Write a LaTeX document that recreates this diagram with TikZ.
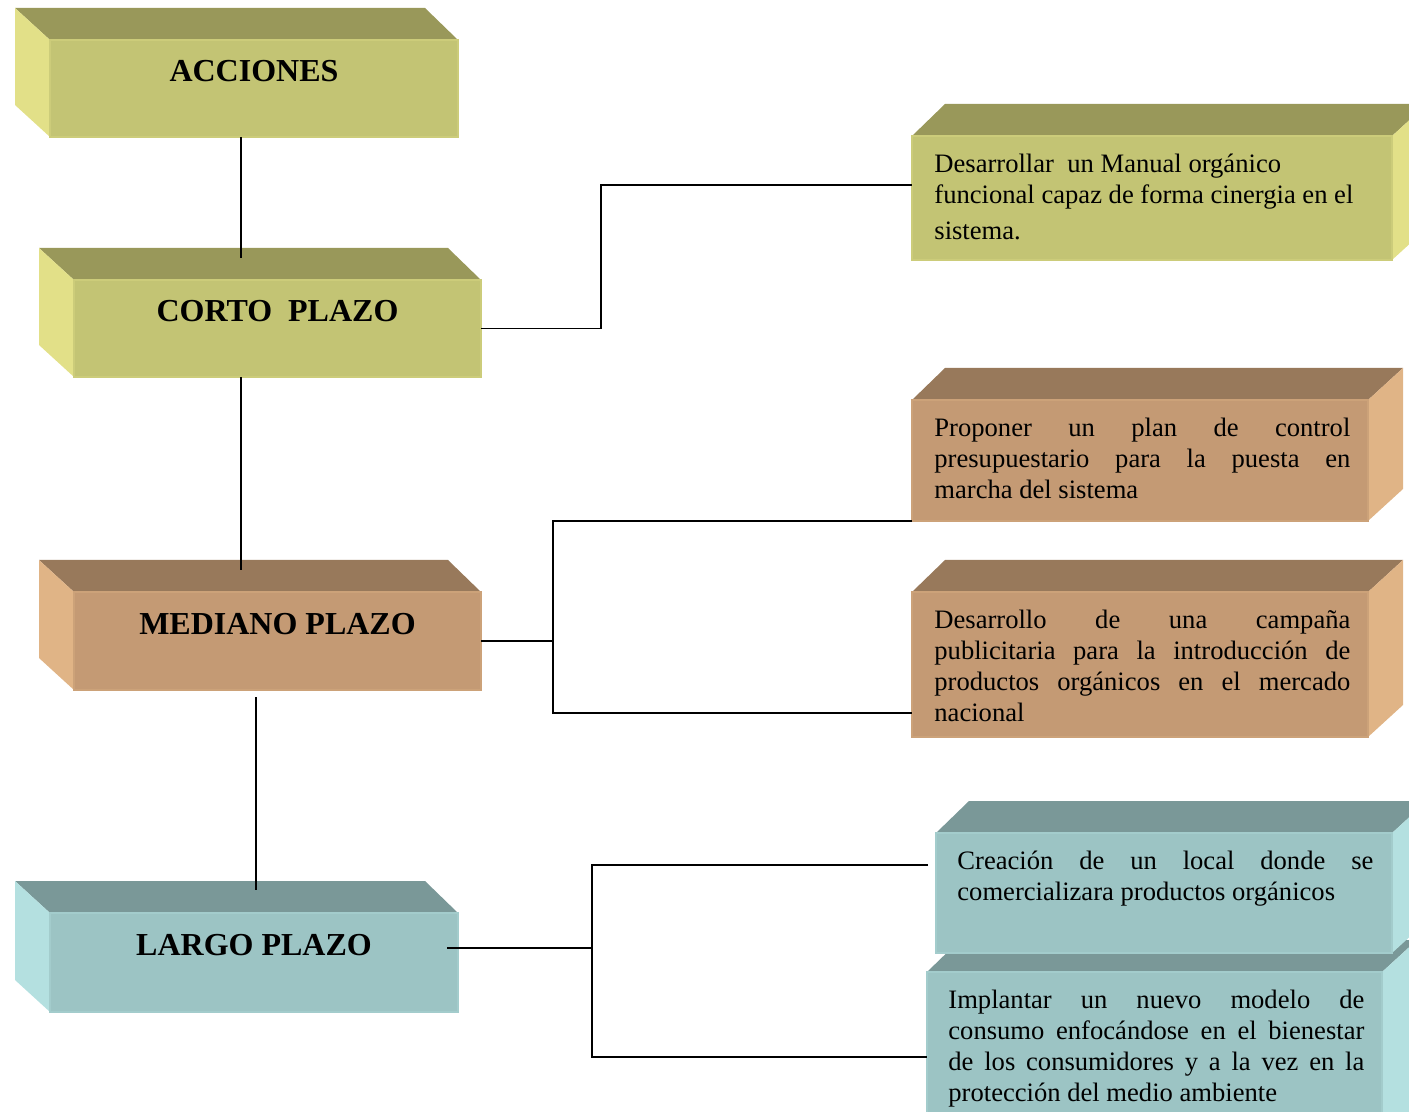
\documentclass[tikz,border=0pt]{standalone}
\usepackage{fontspec}
\setmainfont{Liberation Serif}
\usetikzlibrary{positioning}

\definecolor{olivoF}{RGB}{195,196,116}
\definecolor{olivoT}{RGB}{153,152,90}
\definecolor{olivoL}{RGB}{226,224,136}
\definecolor{cafeF}{RGB}{196,154,116}
\definecolor{cafeT}{RGB}{152,121,91}
\definecolor{cafeL}{RGB}{224,180,134}
\definecolor{aguaF}{RGB}{156,196,196}
\definecolor{aguaT}{RGB}{122,152,152}
\definecolor{aguaL}{RGB}{180,224,224}

\newcommand{\singuion}{\hyphenpenalty10000 \exhyphenpenalty10000 }

% caja con fondo hacia la izquierda: nombre, x, y, ancho, alto, paleta, texto
\newcommand{\cajaizq}[7]{%
  \node[frente, minimum width=#4*0.5pt, minimum height=#5*0.5pt] (#1) at (#2,#3) {};
  \fill[#6T] (#1.north west) -- ++(-35,-32) -- ([shift={(-33,-32)}]#1.north east) -- (#1.north east) -- cycle;
  \fill[#6L] (#1.north west) -- ++(-35,-32) -- ([shift={(-35,-32)}]#1.south west) -- (#1.south west) -- cycle;
  \draw[cara, fill=#6F, draw=#6F!70!#6L] (#1.north west) rectangle (#1.south east);
  \node[titulo] (#1-txt) at ([yshift=8.5pt]#1.center) {#7};
}
% caja con fondo hacia la derecha
\newcommand{\cajader}[7]{%
  \node[frente, minimum width=#4*0.5pt, minimum height=#5*0.5pt] (#1) at (#2,#3) {};
  \fill[#6T] (#1.north west) -- ++(33,-32) -- ([shift={(35,-32)}]#1.north east) -- (#1.north east) -- cycle;
  \fill[#6L] (#1.north east) -- ++(35,-32) -- ([shift={(35,-32)}]#1.south east) -- (#1.south east) -- cycle;
  \draw[cara, fill=#6F, draw=#6F!70!#6L] (#1.north west) rectangle (#1.south east);
  #7
}

\begin{document}
\begin{tikzpicture}[
    x=0.5pt,
    y=-0.5pt,
    frente/.style={anchor=north west, inner sep=0pt, outer sep=0pt},
    cara/.style={line width=0.8pt},
    titulo/.style={font=\fontsize{16}{19}\selectfont\bfseries},
    texto/.style={anchor=north west, inner sep=0pt, text width=208pt, align=justify,
      font={\fontsize{13.3}{15.5}\selectfont\singuion}},
    textoizq/.style={anchor=north west, inner sep=0pt, align=left,
      font=\fontsize{13.3}{15.5}\selectfont},
    linea/.style={draw=black, line width=0.8pt}
  ]
    \useasboundingbox (0,0) rectangle (1409,1112);
    \clip (0,0) rectangle (1409,1112);

    % columna izquierda
    \cajaizq{acc}{50}{40}{408}{97}{olivo}{ACCIONES}
    \cajaizq{corto}{74}{280}{407}{97}{olivo}{CORTO~ PLAZO}
    \cajaizq{mediano}{74}{592}{407}{98}{cafe}{MEDIANO PLAZO}
    \cajaizq{largo}{50}{913}{408}{99}{agua}{LARGO PLAZO}

    % columna derecha
    \cajader{r1}{912}{136}{480}{124}{olivo}{%
      \node[textoizq] (r1-txt) at ([shift={(22,18)}]r1.north west)
        {Desarrollar~ un Manual orgánico\\ funcional capaz de forma cinergia en el\\[2.5pt] sistema.};}
    \cajader{r2}{912}{400}{456}{121}{cafe}{%
      \node[texto] (r2-txt) at ([shift={(22,18)}]r2.north west)
        {Proponer un plan de control\linebreak presupuestario para la puesta en\linebreak marcha del sistema};}
    \cajader{r3}{912}{592}{456}{145}{cafe}{%
      \node[texto] (r3-txt) at ([shift={(22,18)}]r3.north west)
        {Desarrollo de una campaña\linebreak publicitaria para la introducción de\linebreak productos orgánicos en el mercado\linebreak nacional};}
    \cajader{r5}{927}{972}{455}{170}{agua}{%
      \node[texto] (r5-txt) at ([shift={(21,18)}]r5.north west)
        {Implantar un nuevo modelo de\linebreak consumo enfocándose en el bienestar\linebreak de los consumidores y a la vez en la\linebreak protección del medio ambiente};}
    \cajader{r4}{936}{833}{456}{120}{agua}{%
      \node[texto] (r4-txt) at ([shift={(21,18)}]r4.north west)
        {Creación de un local donde se\linebreak comercializara productos orgánicos};}

    % conectores
    \draw[linea] (acc.south -| 241,0) -- (241,258);
    \draw[linea] (corto.south -| 241,0) -- (241,570);
    \draw[linea] ([shift={(-21.5,7)}]mediano.south) -- ++(0,193);
    \draw[linea] (corto.east) -| (601,185) -- (r1.west |- 601,185);
    \draw[linea] (mediano.east) -- ++(72,0);
    \draw[linea] (r2.south west) -| (553,713) -- (r3.west |- 553,713);
    \draw[linea] ([shift={(-11,-14.5)}]largo.east) -- ++(145,0);
    \draw[linea] ([shift={(-8,32)}]r4.north west) -| (592,1057) -- (r5.west |- 592,1057);
  \end{tikzpicture}
\end{document}
